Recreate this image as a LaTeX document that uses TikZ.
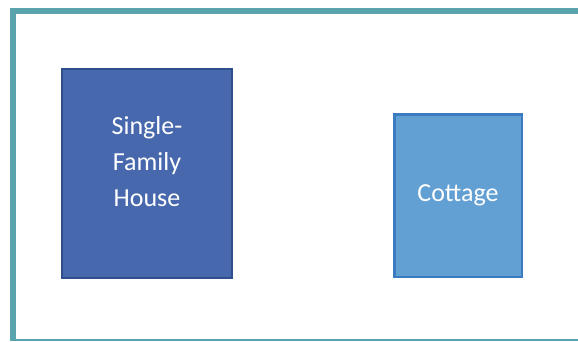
\documentclass[tikz,border=0pt]{standalone}
\usepackage{fontspec}
\setmainfont{Carlito}
\definecolor{frameteal}{HTML}{5AA4AE}
\definecolor{housefill}{HTML}{4868AE}
\definecolor{housedraw}{HTML}{2F4F8A}
\definecolor{cottagefill}{HTML}{629FD3}
\definecolor{cottagedraw}{HTML}{3B7BBF}
\tikzset{
  boxtext/.style={text=white, font=\fontsize{26}{36}\selectfont, align=center},
  housebox/.style={draw=housedraw, fill=housefill, line width=2pt, minimum width=170pt, minimum height=209pt},
  cottagebox/.style={draw=cottagedraw, fill=cottagefill, line width=2.5pt, minimum width=127.5pt, minimum height=162.5pt, boxtext}
}
\begin{document}
\begin{tikzpicture}[x=1pt,y=-1pt]
\useasboundingbox (0,0) rectangle (578,341);
% Frame (top, left, bottom)
\fill[frameteal] (10,8) rectangle (578,14);
\fill[frameteal] (10,8) rectangle (16,341);
\draw[frameteal, line width=1.5pt] (10,340.2) -- (578,340.2);

% Buildings
\node[housebox, label={[boxtext, yshift=11.5pt]center:Single-\\Family\\House}] (single) at (147,173.5) {};
\node[cottagebox] (cottage) at (458,195.5) {Cottage};
\end{tikzpicture}
\end{document}
